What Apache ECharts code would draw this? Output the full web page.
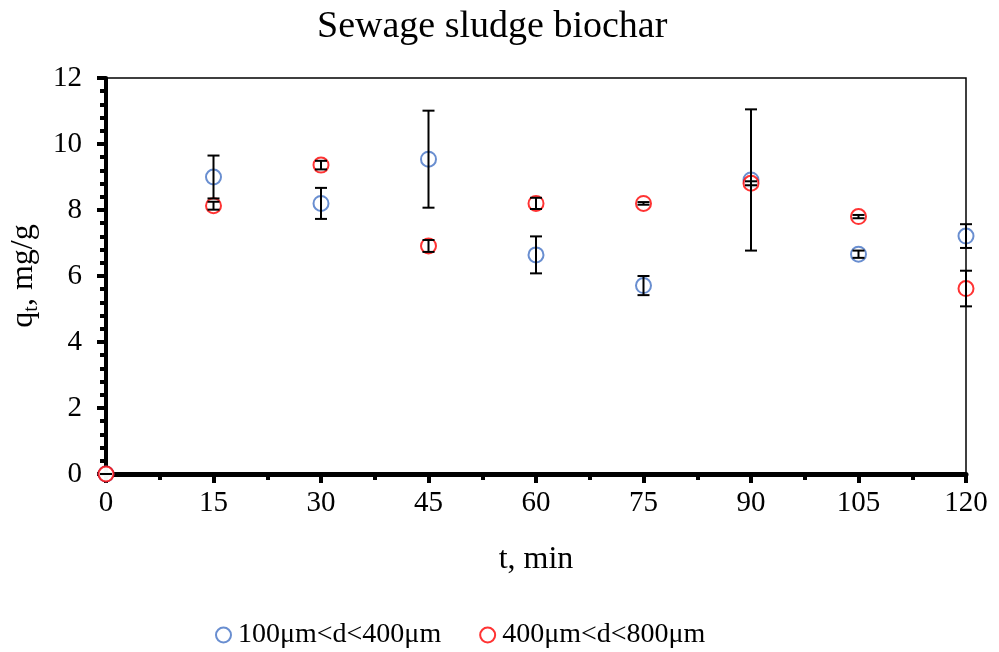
<!DOCTYPE html>
<html>
<head>
<meta charset="utf-8">
<script src="https://cdn.jsdelivr.net/npm/echarts@6/dist/echarts.min.js"></script>
<style>html,body{margin:0;padding:0;background:#fff;}#c{width:999px;height:652px;}</style>
</head>
<body>
<div id="c"></div>
<script>
const times = [0, 15, 30, 45, 60, 75, 90, 105, 120];
const fineMean = [0, 9.0, 8.2, 9.54, 6.64, 5.71, 8.91, 6.66, 7.21];
const fineErr = [0, 0.65, 0.47, 1.47, 0.56, 0.29, 2.14, 0.11, 0.36];
const coarseMean = [0, 8.13, 9.36, 6.91, 8.2, 8.2, 8.81, 7.8, 5.62];
const coarseErr = [0, 0.12, 0.13, 0.18, 0.17, 0.04, 0.06, 0.05, 0.54];
const seriesNames = ['100μm<d<400μm', '400μm<d<800μm'];
const xTicks = [0, 15, 30, 45, 60, 75, 90, 105, 120];
const yTicks = [0, 2, 4, 6, 8, 10, 12];

const FONT = '"Liberation Serif", "Times New Roman", serif';

function errData(means, errs) {
  return times.map((t, i) => [t, means[i] - errs[i], means[i] + errs[i]]);
}
function renderErr(params, api) {
  const x = api.value(0);
  const lo = api.coord([x, api.value(1)]);
  const hi = api.coord([x, api.value(2)]);
  const cap = 6;
  const style = { stroke: '#000', lineWidth: 2 };
  return {
    type: 'group',
    children: [
      { type: 'line', shape: { x1: lo[0], y1: lo[1], x2: hi[0], y2: hi[1] }, style },
      { type: 'line', shape: { x1: lo[0] - cap, y1: lo[1], x2: lo[0] + cap, y2: lo[1] }, style },
      { type: 'line', shape: { x1: hi[0] - cap, y1: hi[1], x2: hi[0] + cap, y2: hi[1] }, style }
    ]
  };
}

const chart = echarts.init(document.getElementById('c'), null, { renderer: 'canvas' });
chart.setOption({
  animation: false,
  backgroundColor: '#fff',
  title: {
    text: 'Sewage sludge biochar',
    left: 312, top: 3,
    textStyle: { fontFamily: FONT, fontSize: 38, fontWeight: 'normal', color: '#000' }
  },
  legend: {
    top: 616, left: 210,
    itemWidth: 15, itemHeight: 15, itemGap: 38,
    textStyle: { fontFamily: FONT, fontSize: 28, color: '#000', padding: [0, 0, 0, 2] },
    data: seriesNames
  },
  grid: {
    left: 102, right: 33, top: 78, bottom: 178,
    show: true, borderColor: '#000', borderWidth: 1.5, backgroundColor: 'transparent'
  },
  xAxis: {
    type: 'value', min: 0, max: 120, interval: 15,
    name: 't, min', nameLocation: 'middle', nameGap: 70,
    nameTextStyle: { fontFamily: FONT, fontSize: 32, color: '#000' },
    axisLine: { onZero: false, lineStyle: { color: '#000', width: 5 } },
    axisTick: { show: true, inside: false, length: 9, lineStyle: { color: '#000', width: 4 } },
    minorTick: { show: true, splitNumber: 2, length: 6, lineStyle: { color: '#000', width: 4 } },
    axisLabel: {
      fontFamily: FONT, fontSize: 29, color: '#000', margin: 15,
      formatter: v => xTicks.includes(v) ? String(v) : ''
    },
    splitLine: { show: false }
  },
  yAxis: {
    type: 'value', min: 0, max: 12, interval: 2,
    name: '{q|q}{s|t}{q|, mg/g}', nameLocation: 'middle', nameGap: 64,
    nameTextStyle: {
      rich: {
        q: { fontFamily: FONT, fontSize: 32, color: '#000' },
        s: { fontFamily: FONT, fontSize: 20, color: '#000', verticalAlign: 'bottom', padding: [16, 0, 0, 0] }
      }
    },
    axisLine: { onZero: false, lineStyle: { color: '#000', width: 4 } },
    axisTick: { show: true, inside: false, length: 9, lineStyle: { color: '#000', width: 4 } },
    minorTick: { show: true, splitNumber: 5, length: 6, lineStyle: { color: '#000', width: 4 } },
    axisLabel: {
      fontFamily: FONT, fontSize: 29, color: '#000', margin: 24,
      formatter: v => yTicks.includes(v) ? String(v) : ''
    },
    splitLine: { show: false }
  },
  series: [
    {
      name: seriesNames[0], type: 'scatter',
      symbol: 'emptyCircle', symbolSize: 15,
      itemStyle: { color: '#4472C4', borderColor: '#4472C4', borderWidth: 2 },
      data: times.map((t, i) => [t, fineMean[i]]), z: 3
    },
    {
      name: seriesNames[1], type: 'scatter',
      symbol: 'emptyCircle', symbolSize: 15,
      itemStyle: { color: '#FF0000', borderColor: '#FF0000', borderWidth: 2 },
      data: times.map((t, i) => [t, coarseMean[i]]), z: 3
    },
    {
      type: 'custom', renderItem: renderErr, data: errData(fineMean, fineErr),
      encode: { x: 0, y: [1, 2] }, z: 4, silent: true
    },
    {
      type: 'custom', renderItem: renderErr, data: errData(coarseMean, coarseErr),
      encode: { x: 0, y: [1, 2] }, z: 4, silent: true
    }
  ]
});
</script>
</body>
</html>
